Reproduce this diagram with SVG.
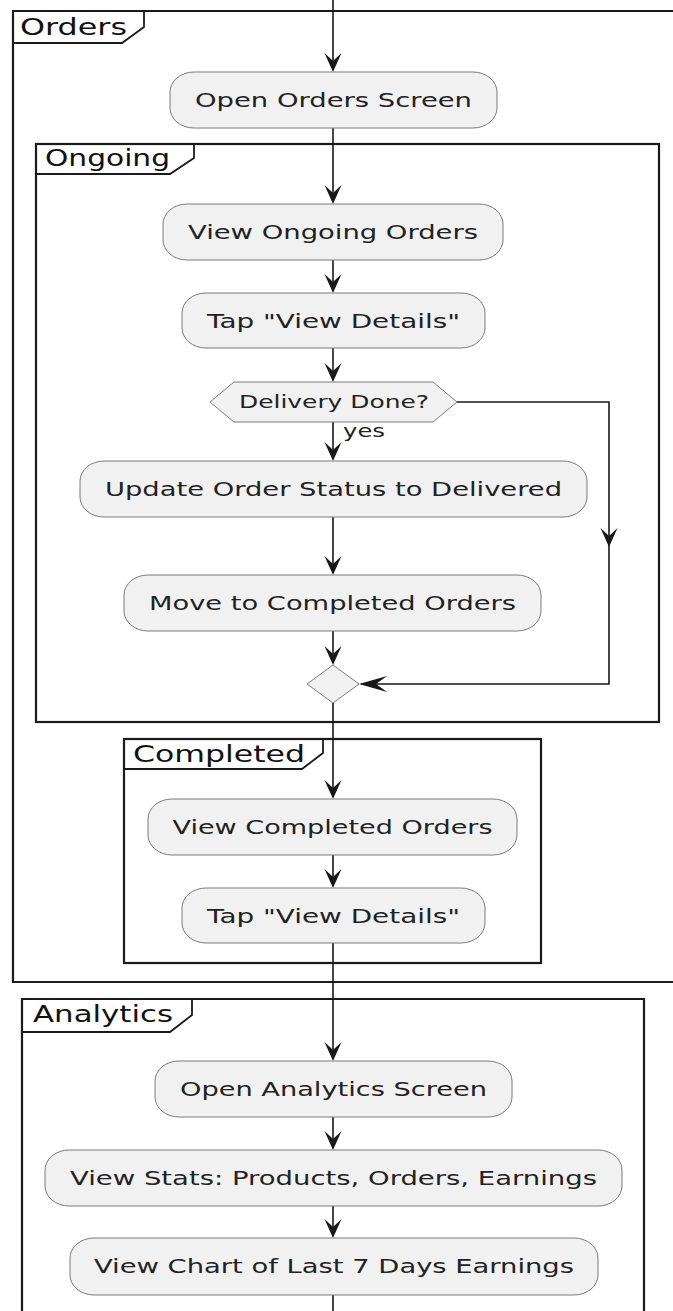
<svg xmlns="http://www.w3.org/2000/svg" width="673" height="1311" viewBox="0 0 673 1311">
<style>
.frame{fill:none;stroke:#1a1a1a;stroke-width:2.2}
.tab{fill:none;stroke:#1a1a1a;stroke-width:1.8}
.ftitle{font-family:"DejaVu Sans",sans-serif;font-size:23px;fill:#111}
.act{fill:#F1F1F1;stroke:#7a7a7a;stroke-width:1}
.atext{font-family:"DejaVu Sans",sans-serif;font-size:20px;fill:#222;text-anchor:middle}
.dtext{font-family:"DejaVu Sans",sans-serif;font-size:18px;fill:#222;text-anchor:middle}
.ltext{font-family:"DejaVu Sans",sans-serif;font-size:18px;fill:#222}
.conn{fill:none;stroke:#181818;stroke-width:1.6}
.ah{fill:#181818;stroke:none}
</style>
<rect width="673" height="1311" fill="#ffffff"/>

<g id="frame-orders">
<path class="frame" d="M680,11 H13 V982 H680"/>
<path class="tab" d="M144,11 V27 L122,43 H13"/>
<text class="ftitle" x="20" y="35" textLength="107" lengthAdjust="spacingAndGlyphs">Orders</text>
</g>
<g id="frame-ongoing">
<rect class="frame" x="36" y="144" width="623" height="578"/>
<path class="tab" d="M194,144 V158 L170,174 H36"/>
<text class="ftitle" x="45" y="166" textLength="125" lengthAdjust="spacingAndGlyphs">Ongoing</text>
</g>
<g id="frame-completed">
<rect class="frame" x="124" y="739" width="417" height="224"/>
<path class="tab" d="M323,739 V753 L302,769 H124"/>
<text class="ftitle" x="133" y="762" textLength="172" lengthAdjust="spacingAndGlyphs">Completed</text>
</g>
<g id="frame-analytics">
<path class="frame" d="M22,1320 V999 H644 V1320"/>
<path class="tab" d="M192,999 V1015 L170,1032 H22"/>
<text class="ftitle" x="33" y="1022" textLength="140" lengthAdjust="spacingAndGlyphs">Analytics</text>
</g>

<g id="connectors">
<path class="conn" d="M333,0 V70"/>
<path class="conn" d="M333,128 V202"/>
<path class="conn" d="M333,260 V291"/>
<path class="conn" d="M333,348 V380"/>
<path class="conn" d="M333,422 V459"/>
<path class="conn" d="M333,517 V573"/>
<path class="conn" d="M333,631 V663"/>
<path class="conn" d="M333,703 V797"/>
<path class="conn" d="M333,855 V886"/>
<path class="conn" d="M333,943 V1059"/>
<path class="conn" d="M333,1117 V1148"/>
<path class="conn" d="M333,1206 V1236"/>
<path class="conn" d="M333,1295 V1311"/>
<path class="conn" d="M457,402 H609 V684 H361"/>
<polygon class="ah" points="333,72 324.5,53 333,61 341.5,53"/>
<polygon class="ah" points="333,204 324.5,185 333,193 341.5,185"/>
<polygon class="ah" points="333,293 324.5,274 333,282 341.5,274"/>
<polygon class="ah" points="333,382 324.5,363 333,371 341.5,363"/>
<polygon class="ah" points="333,461 324.5,442 333,450 341.5,442"/>
<polygon class="ah" points="333,575 324.5,556 333,564 341.5,556"/>
<polygon class="ah" points="333,665 324.5,646 333,654 341.5,646"/>
<polygon class="ah" points="333,799 324.5,780 333,788 341.5,780"/>
<polygon class="ah" points="333,888 324.5,869 333,877 341.5,869"/>
<polygon class="ah" points="333,1061 324.5,1042 333,1050 341.5,1042"/>
<polygon class="ah" points="333,1150 324.5,1131 333,1139 341.5,1131"/>
<polygon class="ah" points="333,1238 324.5,1219 333,1227 341.5,1219"/>
<polygon class="ah" points="609,547 600.5,528 609,536 617.5,528"/>
<polygon class="ah" points="359,684 387,676 376,684 387,692"/>
<text class="ltext" x="343" y="437" textLength="42" lengthAdjust="spacingAndGlyphs">yes</text>
</g>

<g id="open-orders-screen">
<rect class="act" x="170" y="72" width="327" height="56" rx="24" ry="20"/>
<text class="atext" x="333.5" y="107" textLength="277" lengthAdjust="spacingAndGlyphs">Open Orders Screen</text>
</g>
<g id="view-ongoing-orders">
<rect class="act" x="163" y="204" width="340" height="56" rx="24" ry="20"/>
<text class="atext" x="333" y="239" textLength="290" lengthAdjust="spacingAndGlyphs">View Ongoing Orders</text>
</g>
<g id="tap-view-details-1">
<rect class="act" x="182" y="293" width="303" height="55" rx="24" ry="20"/>
<text class="atext" x="333.5" y="328" textLength="253" lengthAdjust="spacingAndGlyphs">Tap "View Details"</text>
</g>
<g id="delivery-done">
<polygon class="act" points="210,402 234,382 433,382 457,402 433,422 234,422"/>
<text class="dtext" x="334" y="408" textLength="190" lengthAdjust="spacingAndGlyphs">Delivery Done?</text>
</g>
<g id="update-status">
<rect class="act" x="80" y="461" width="507" height="56" rx="24" ry="20"/>
<text class="atext" x="333.5" y="496" textLength="457" lengthAdjust="spacingAndGlyphs">Update Order Status to Delivered</text>
</g>
<g id="move-to-completed">
<rect class="act" x="124" y="575" width="417" height="56" rx="24" ry="20"/>
<text class="atext" x="332.5" y="610" textLength="367" lengthAdjust="spacingAndGlyphs">Move to Completed Orders</text>
</g>
<g id="merge">
<polygon class="act" points="333,665 359,684 333,703 307,684"/>
</g>
<g id="view-completed-orders">
<rect class="act" x="148" y="799" width="369" height="56" rx="24" ry="20"/>
<text class="atext" x="332.5" y="834" textLength="320" lengthAdjust="spacingAndGlyphs">View Completed Orders</text>
</g>
<g id="tap-view-details-2">
<rect class="act" x="182" y="888" width="303" height="55" rx="24" ry="20"/>
<text class="atext" x="333.5" y="923" textLength="253" lengthAdjust="spacingAndGlyphs">Tap "View Details"</text>
</g>
<g id="open-analytics-screen">
<rect class="act" x="155" y="1061" width="357" height="56" rx="24" ry="20"/>
<text class="atext" x="333.5" y="1096" textLength="307" lengthAdjust="spacingAndGlyphs">Open Analytics Screen</text>
</g>
<g id="view-stats">
<rect class="act" x="45" y="1150" width="577" height="56" rx="24" ry="20"/>
<text class="atext" x="333.5" y="1185" textLength="527" lengthAdjust="spacingAndGlyphs">View Stats: Products, Orders, Earnings</text>
</g>
<g id="view-chart">
<rect class="act" x="70" y="1238" width="528" height="57" rx="24" ry="20"/>
<text class="atext" x="334" y="1273" textLength="480" lengthAdjust="spacingAndGlyphs">View Chart of Last 7 Days Earnings</text>
</g>
</svg>
